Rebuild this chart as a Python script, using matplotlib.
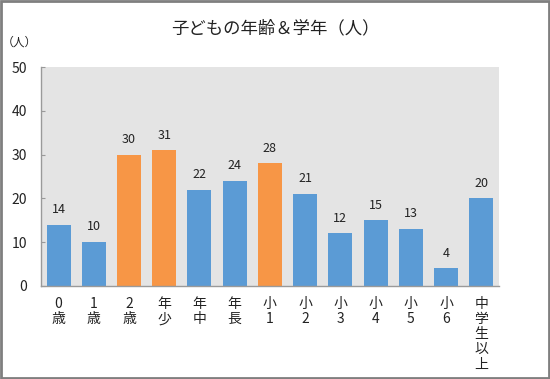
import matplotlib.pyplot as plt
from matplotlib.patches import Rectangle

plt.rcParams['font.family'] = ['Noto Sans CJK JP', 'DejaVu Sans']

categories = ['0\n歳', '1\n歳', '2\n歳', '年\n少', '年\n中', '年\n長', '小\n1',
              '小\n2', '小\n3', '小\n4', '小\n5', '小\n6', '中\n学\n生\n以\n上']
values = [14, 10, 30, 31, 22, 24, 28, 21, 12, 15, 13, 4, 20]
highlight = [2, 3, 6]

blue = '#5b9bd5'
orange = '#f79646'
colors = [orange if i in highlight else blue for i in range(len(values))]

fig = plt.figure(figsize=(5.5, 3.79), dpi=100)
ax = fig.add_axes([0.0745, 0.2454, 0.8325, 0.5776])
ax.set_facecolor('#e4e4e4')

x = range(len(values))
bars = ax.bar(x, values, width=0.68, color=colors, zorder=2)
for b, v in zip(bars, values):
    ax.text(b.get_x() + b.get_width() / 2, v + 2.0, str(v), ha='center', va='bottom',
            fontsize=9, color='#222222')

ax.set_xlim(-0.5, len(values) - 0.5)
ax.set_ylim(0, 50)
ax.set_yticks([0, 10, 20, 30, 40, 50])
ax.set_xticks(list(x))
ax.set_xticklabels(categories, fontsize=10, linespacing=1.1, va='top', color='#222222')
ax.tick_params(axis='y', direction='in', length=3, pad=10, labelsize=10, color='#999999',
               labelcolor='#222222')
ax.tick_params(axis='x', length=0, pad=8)

for s in ['top', 'right']:
    ax.spines[s].set_visible(False)
for s in ['left', 'bottom']:
    ax.spines[s].set_color('#9a9a9a')
    ax.spines[s].set_linewidth(1)

fig.text(0.5, 0.925, '子どもの年齢＆学年（人）', ha='center', va='center', fontsize=12.5,
         color='#222222')
fig.text(0.036, 0.888, '（人）', ha='center', va='center', fontsize=8.5, color='#222222')

fig.patches.append(Rectangle((0.002, 0.003), 0.996, 0.994, transform=fig.transFigure,
                             fill=False, edgecolor='#7f7f7f', linewidth=2))

fig.savefig('out.png', dpi=100)
